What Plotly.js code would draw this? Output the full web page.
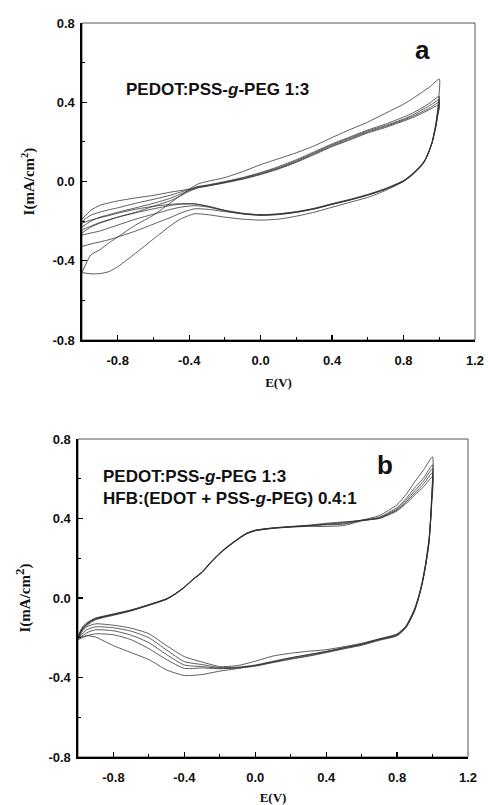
<!DOCTYPE html>
<html><head><meta charset="utf-8">
<script src="https://cdn.plot.ly/plotly-3.0.1.min.js"></script>
<style>html,body{margin:0;padding:0;background:#fff}</style>
</head><body>
<div id="chart" style="width:488px;height:805px"></div>
<script>
// ---------- Panel a : PEDOT:PSS-g-PEG 1:3 ----------
const aVfwd = [-1.0,-0.95,-0.9,-0.85,-0.8,-0.7,-0.6,-0.5,-0.4,-0.35,-0.3,-0.2,-0.1,0.0,0.1,0.2,0.3,0.4,0.5,0.6,0.7,0.8,0.85,0.9,0.95,1.0];
const aIfwd1 = [-0.19,-0.145,-0.12,-0.108,-0.098,-0.083,-0.07,-0.053,-0.037,-0.012,0.0,0.02,0.05,0.085,0.115,0.145,0.18,0.222,0.262,0.3,0.345,0.39,0.418,0.448,0.48,0.517];
const aIfwd2 = [-0.46,-0.37,-0.345,-0.31,-0.28,-0.22,-0.17,-0.105,-0.042,-0.025,-0.018,0.0,0.02,0.045,0.075,0.11,0.15,0.19,0.225,0.26,0.29,0.325,0.345,0.37,0.398,0.43];
const aIfwd3 = [-0.20,-0.17,-0.155,-0.143,-0.133,-0.11,-0.09,-0.068,-0.04,-0.028,-0.02,-0.003,0.017,0.042,0.07,0.105,0.145,0.185,0.22,0.255,0.283,0.315,0.335,0.36,0.385,0.413];
const aIfwd4 = [-0.23,-0.2,-0.18,-0.168,-0.155,-0.133,-0.11,-0.083,-0.045,-0.03,-0.022,-0.005,0.014,0.038,0.066,0.1,0.14,0.18,0.215,0.25,0.278,0.31,0.328,0.35,0.373,0.40];
const aIfwd5 = [-0.26,-0.23,-0.21,-0.195,-0.18,-0.155,-0.125,-0.095,-0.05,-0.032,-0.024,-0.007,0.012,0.035,0.063,0.097,0.136,0.176,0.21,0.245,0.273,0.305,0.322,0.343,0.365,0.387];
const aVrev = [0.99,0.98,0.96,0.94,0.92,0.9,0.85,0.8,0.7,0.6,0.5,0.4,0.3,0.2,0.1,0.0,-0.1,-0.2,-0.3,-0.37,-0.45,-0.5,-0.6,-0.7,-0.8,-0.85,-0.9,-0.95,-1.0];
const aIrev1 = [0.36,0.29,0.2,0.145,0.105,0.078,0.033,0.0,-0.045,-0.08,-0.105,-0.13,-0.155,-0.175,-0.19,-0.195,-0.19,-0.18,-0.167,-0.163,-0.19,-0.22,-0.29,-0.362,-0.43,-0.455,-0.465,-0.466,-0.46];
const aIrev2 = [0.34,0.28,0.2,0.15,0.11,0.085,0.04,0.005,-0.035,-0.065,-0.09,-0.112,-0.135,-0.152,-0.163,-0.168,-0.162,-0.152,-0.14,-0.138,-0.16,-0.18,-0.215,-0.25,-0.28,-0.294,-0.305,-0.315,-0.328];
const aIrev3 = [0.335,0.278,0.198,0.148,0.108,0.083,0.038,0.003,-0.037,-0.067,-0.092,-0.113,-0.137,-0.153,-0.164,-0.168,-0.16,-0.145,-0.123,-0.114,-0.115,-0.12,-0.138,-0.158,-0.18,-0.193,-0.207,-0.225,-0.244];
const aIrev4 = [0.33,0.275,0.196,0.146,0.106,0.081,0.036,0.002,-0.038,-0.068,-0.093,-0.115,-0.138,-0.155,-0.166,-0.17,-0.163,-0.148,-0.128,-0.122,-0.13,-0.14,-0.165,-0.19,-0.22,-0.235,-0.25,-0.26,-0.27];
const aIrev5 = [0.325,0.272,0.195,0.145,0.105,0.08,0.035,0.001,-0.039,-0.069,-0.094,-0.116,-0.139,-0.156,-0.167,-0.171,-0.164,-0.147,-0.125,-0.112,-0.112,-0.115,-0.125,-0.14,-0.16,-0.172,-0.183,-0.195,-0.21];

// ---------- Panel b : + HFB ----------
const bVfwd = [-1.0,-0.97,-0.93,-0.9,-0.85,-0.8,-0.7,-0.6,-0.5,-0.45,-0.4,-0.35,-0.3,-0.25,-0.2,-0.15,-0.1,-0.05,0.0,0.1,0.2,0.3,0.4,0.5,0.6,0.7,0.8,0.85,0.9,0.95,1.0];
const bIfwd1 = [-0.21,-0.155,-0.125,-0.11,-0.097,-0.087,-0.065,-0.037,-0.007,0.02,0.053,0.093,0.128,0.178,0.223,0.26,0.293,0.322,0.338,0.35,0.357,0.363,0.372,0.38,0.392,0.415,0.47,0.52,0.585,0.645,0.71];
const bIfwd2 = [-0.2,-0.15,-0.12,-0.106,-0.094,-0.084,-0.063,-0.036,-0.005,0.021,0.054,0.094,0.13,0.18,0.225,0.262,0.295,0.324,0.34,0.352,0.359,0.365,0.368,0.372,0.39,0.407,0.455,0.5,0.555,0.605,0.67];
const bIfwd3 = [-0.195,-0.145,-0.117,-0.103,-0.092,-0.082,-0.061,-0.034,-0.004,0.022,0.055,0.095,0.131,0.181,0.226,0.263,0.296,0.325,0.341,0.353,0.36,0.366,0.376,0.383,0.39,0.404,0.448,0.49,0.54,0.59,0.65];
const bIfwd4 = [-0.19,-0.14,-0.113,-0.1,-0.09,-0.08,-0.06,-0.033,-0.003,0.023,0.056,0.096,0.132,0.182,0.227,0.264,0.297,0.326,0.341,0.352,0.357,0.36,0.36,0.365,0.388,0.402,0.443,0.482,0.528,0.575,0.63];
const bIfwd5 = [-0.2,-0.148,-0.118,-0.104,-0.093,-0.083,-0.062,-0.035,-0.005,0.021,0.054,0.094,0.129,0.179,0.224,0.261,0.294,0.323,0.339,0.351,0.358,0.364,0.37,0.376,0.391,0.4,0.438,0.475,0.518,0.56,0.61];
const bVrev = [0.995,0.99,0.98,0.96,0.94,0.92,0.9,0.88,0.85,0.8,0.7,0.6,0.5,0.4,0.3,0.2,0.1,0.0,-0.1,-0.2,-0.3,-0.4,-0.5,-0.6,-0.7,-0.8,-0.9,-0.95,-1.0];
const bIrev1 = [0.52,0.42,0.3,0.17,0.075,0.005,-0.05,-0.09,-0.14,-0.18,-0.207,-0.232,-0.25,-0.27,-0.285,-0.302,-0.322,-0.34,-0.355,-0.368,-0.385,-0.39,-0.362,-0.31,-0.275,-0.24,-0.197,-0.19,-0.2];
const bIrev2 = [0.5,0.41,0.29,0.165,0.07,0.0,-0.055,-0.095,-0.143,-0.183,-0.205,-0.228,-0.245,-0.26,-0.268,-0.278,-0.292,-0.318,-0.34,-0.345,-0.322,-0.295,-0.24,-0.18,-0.152,-0.137,-0.13,-0.145,-0.19];
const bIrev3 = [0.49,0.405,0.285,0.16,0.068,-0.002,-0.057,-0.097,-0.145,-0.185,-0.208,-0.232,-0.25,-0.268,-0.285,-0.3,-0.318,-0.337,-0.348,-0.35,-0.335,-0.32,-0.262,-0.2,-0.167,-0.15,-0.145,-0.16,-0.2];
const bIrev4 = [0.48,0.4,0.28,0.158,0.066,-0.004,-0.06,-0.1,-0.148,-0.188,-0.21,-0.235,-0.253,-0.272,-0.29,-0.305,-0.322,-0.34,-0.35,-0.353,-0.345,-0.337,-0.285,-0.225,-0.187,-0.165,-0.16,-0.175,-0.205];
const bIrev5 = [0.47,0.395,0.275,0.155,0.064,-0.006,-0.062,-0.102,-0.15,-0.19,-0.213,-0.238,-0.256,-0.275,-0.293,-0.308,-0.325,-0.343,-0.352,-0.356,-0.352,-0.354,-0.31,-0.255,-0.21,-0.185,-0.18,-0.19,-0.21];

// ---------- ticks ----------
const xTickVals = [-0.8,-0.4,0,0.4,0.8,1.2];
const xTickText = ['-0.8','-0.4','0.0','0.4','0.8','1.2'];
const xMinorVals = [-1.0,-0.6,-0.2,0.2,0.6,1.0];
const yTickVals = [-0.8,-0.4,0,0.4,0.8];
const yTickText = ['-0.8','-0.4','0.0','0.4','0.8'];
const yMinorVals = [-0.6,-0.2,0.2,0.6];

const lineStyle = {color:'rgba(50,50,50,0.88)', width:0.9, shape:'spline', smoothing:0.6};
function loop(vf, iF, vr, iR, xa, ya){
  return {x: vf.concat(vr), y: iF.concat(iR), xaxis: xa, yaxis: ya, type:'scatter', mode:'lines',
          line: lineStyle, showlegend:false, hoverinfo:'skip'};
}
const data = [
  loop(aVfwd,aIfwd1,aVrev,aIrev1,'x','y'),
  loop(aVfwd,aIfwd2,aVrev,aIrev2,'x','y'),
  loop(aVfwd,aIfwd3,aVrev,aIrev3,'x','y'),
  loop(aVfwd,aIfwd4,aVrev,aIrev4,'x','y'),
  loop(aVfwd,aIfwd5,aVrev,aIrev5,'x','y'),
  loop(bVfwd,bIfwd1,bVrev,bIrev1,'x2','y2'),
  loop(bVfwd,bIfwd2,bVrev,bIrev2,'x2','y2'),
  loop(bVfwd,bIfwd3,bVrev,bIrev3,'x2','y2'),
  loop(bVfwd,bIfwd4,bVrev,bIrev4,'x2','y2'),
  loop(bVfwd,bIfwd5,bVrev,bIrev5,'x2','y2')
];

const tickFont = {family:'Liberation Sans, Arial, sans-serif', size:13, color:'#111', weight:'bold'};
const titleFont = {family:'Liberation Serif, Times New Roman, serif', size:13, color:'#111', weight:'bold'};
const pad = '\u00A0\u00A0\u00A0\u00A0\u00A0\u00A0\u00A0\u00A0';
function xAxis(domain, anchor){
  return {domain: domain, anchor: anchor, range:[-1.0,1.2], showline:true, linecolor:'#000', linewidth:1.6,
    ticks:'inside', ticklen:5, tickwidth:1.2, tickcolor:'#000', tickmode:'array', tickvals:xTickVals, ticktext:xTickText,
    minor:{tickmode:'array', tickvals:xMinorVals, ticks:'inside', ticklen:3, tickwidth:1, tickcolor:'#000'},
    tickfont: tickFont, ticklabelstandoff: 8, showgrid:false, zeroline:false, automargin:false,
    title:{text:'E(V)', font:titleFont, standoff:10}};
}
function yAxis(domain, anchor, ttl){
  return {domain: domain, anchor: anchor, range:[-0.8,0.8], showline:true, linecolor:'#000', linewidth:1.6,
    ticks:'inside', ticklen:5, tickwidth:1.2, tickcolor:'#000', tickmode:'array', tickvals:yTickVals, ticktext:yTickText,
    minor:{tickmode:'array', tickvals:yMinorVals, ticks:'inside', ticklen:3, tickwidth:1, tickcolor:'#000'},
    tickfont: tickFont, ticklabelstandoff: 3, showgrid:false, zeroline:false, automargin:false,
    title:{text: ttl, font:{family:'Liberation Serif, Times New Roman, serif', size:15, color:'#111', weight:'bold'}, standoff:14}};
}
const annFont = {family:'Liberation Sans, Arial, sans-serif', size:17, color:'#111', weight:'bold'};
const layout = {
  width:488, height:805, margin:{l:0,r:0,t:0,b:0}, paper_bgcolor:'#fff', plot_bgcolor:'#fff', showlegend:false,
  xaxis: xAxis([82/488, 475/488], 'y'),
  yaxis: yAxis([1-340/805, 1-23/805], 'x', 'I(mA/cm<sup>2</sup>)' + pad),
  xaxis2: xAxis([78/488, 468/488], 'y2'),
  yaxis2: yAxis([1-757/805, 1-439/805], 'x2', 'I(mA/cm<sup><span style="font-size:13px">2</span></sup>)' + pad),
  shapes: [
    {type:'rect', xref:'x domain', yref:'y domain', x0:0, x1:1, y0:0, y1:1, line:{color:'#555', width:1}, layer:'below'},
    {type:'rect', xref:'x2 domain', yref:'y2 domain', x0:0, x1:1, y0:0, y1:1, line:{color:'#555', width:1}, layer:'below'}
  ],
  annotations: [
    {xref:'paper', yref:'paper', x:422/488, y:1-50/805, text:'a', showarrow:false, xanchor:'center', yanchor:'middle',
     font:{family:'Liberation Sans, Arial, sans-serif', size:26, color:'#111', weight:'bold'}},
    {xref:'paper', yref:'paper', x:124/488, y:1-90/805, text:'PEDOT:PSS-<i>g</i>-PEG 1:3', showarrow:false, xanchor:'left', yanchor:'middle', font: annFont},
    {xref:'paper', yref:'paper', x:385/488, y:1-465/805, text:'b', showarrow:false, xanchor:'center', yanchor:'middle',
     font:{family:'Liberation Sans, Arial, sans-serif', size:26, color:'#111', weight:'bold'}},
    {xref:'paper', yref:'paper', x:101/488, y:1-476.7/805, text:'PEDOT:PSS-<i>g</i>-PEG 1:3', showarrow:false, xanchor:'left', yanchor:'middle', font: annFont},
    {xref:'paper', yref:'paper', x:101/488, y:1-498.3/805, text:'HFB:(EDOT + PSS-<i>g</i>-PEG) 0.4:1', showarrow:false, xanchor:'left', yanchor:'middle', font: annFont}
  ]
};
Plotly.newPlot('chart', data, layout, {staticPlot:true, displayModeBar:false});
</script></body></html>
